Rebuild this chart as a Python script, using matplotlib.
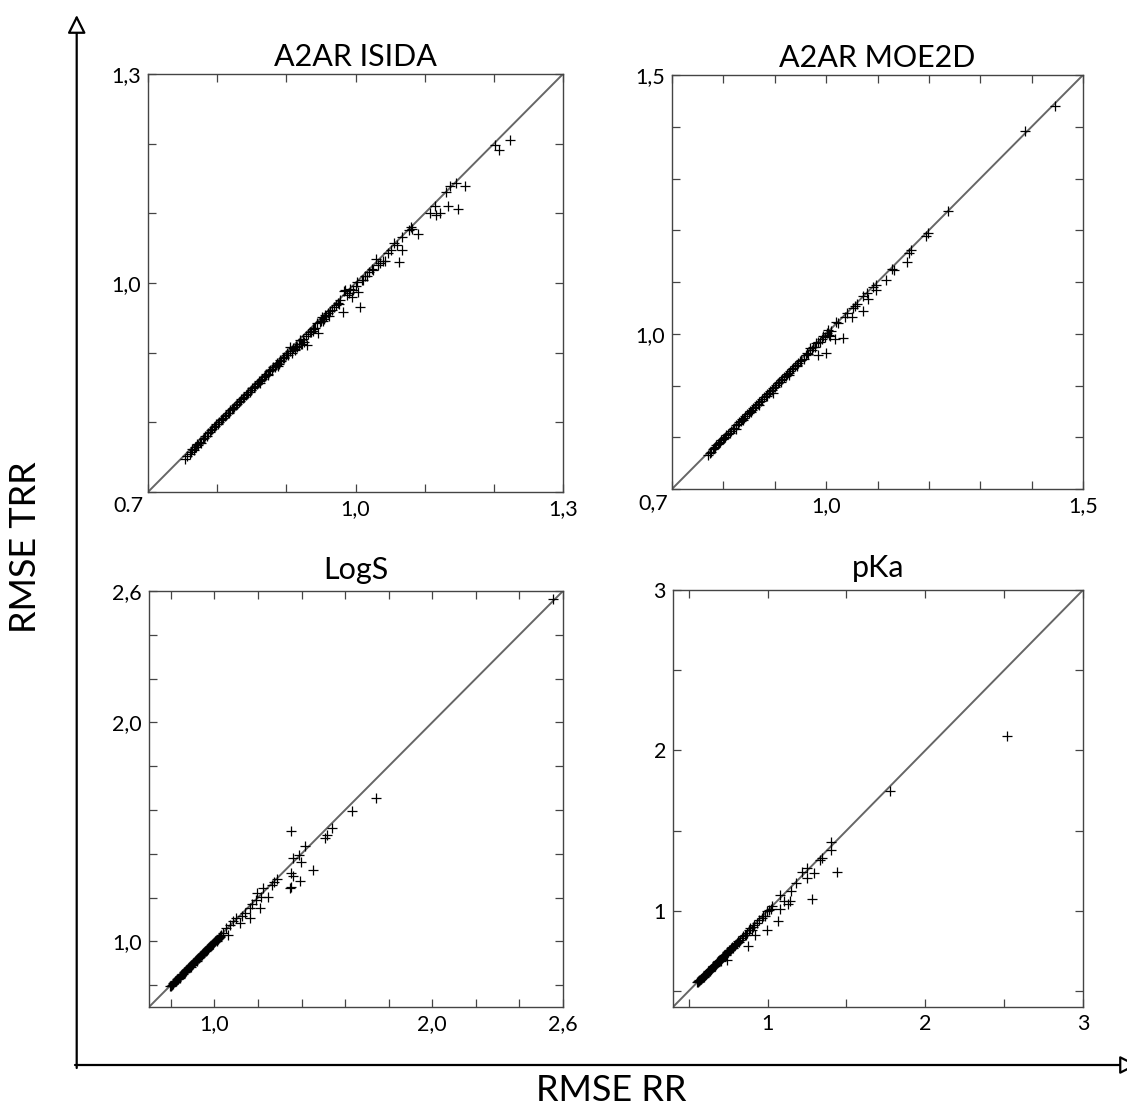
import matplotlib
matplotlib.use("Agg")
import matplotlib.pyplot as plt

plt.rcParams["font.family"] = ["Lato", "DejaVu Sans"]

# A2AR ISIDA
isida_rr = [0.754, 0.757, 0.760, 0.762, 0.764, 0.766, 0.768, 0.770, 0.771, 0.773,
            0.775, 0.777, 0.779, 0.781, 0.783, 0.785, 0.787, 0.789, 0.791, 0.793,
            0.795, 0.797, 0.799, 0.801, 0.803, 0.805, 0.807, 0.809, 0.811, 0.813,
            0.815, 0.817, 0.819, 0.821, 0.823, 0.825, 0.827, 0.829, 0.831, 0.833,
            0.835, 0.837, 0.839, 0.841, 0.843, 0.845, 0.847, 0.849, 0.851, 0.853,
            0.855, 0.857, 0.859, 0.861, 0.863, 0.865, 0.867, 0.869, 0.871, 0.873,
            0.875, 0.877, 0.879, 0.881, 0.883, 0.885, 0.887, 0.889, 0.891, 0.893,
            0.895, 0.897, 0.899, 0.901, 0.903, 0.905, 0.906, 0.908, 0.910, 0.912,
            0.914, 0.916, 0.918, 0.920, 0.922, 0.924, 0.926, 0.928, 0.930, 0.932,
            0.934, 0.936, 0.938, 0.940, 0.942, 0.944, 0.946, 0.948, 0.950, 0.952,
            0.954, 0.956, 0.958, 0.960, 0.963, 0.966, 0.969, 0.972, 0.975, 0.978,
            0.982, 0.983, 0.985, 0.988, 0.990, 0.992, 0.995, 0.997, 1.000, 1.002,
            1.004, 1.007, 1.009, 1.011, 1.014, 1.016, 1.020, 1.024, 1.026, 1.030,
            1.033, 1.035, 1.040, 1.043, 1.047, 1.052, 1.056, 1.060, 1.063, 1.067,
            1.067, 1.078, 1.080, 1.082, 1.091, 1.108, 1.115, 1.117, 1.122, 1.131,
            1.134, 1.136, 1.146, 1.148, 1.158, 1.201, 1.208, 1.224,
            0.862, 0.874, 0.888, 0.896, 0.913, 0.921, 0.939, 0.953, 0.962, 0.976]
isida_trr = [0.748, 0.752, 0.755, 0.758, 0.762, 0.760, 0.765, 0.764, 0.769, 0.768,
             0.772, 0.771, 0.776, 0.777, 0.780, 0.781, 0.785, 0.786, 0.789, 0.790,
             0.793, 0.795, 0.797, 0.798, 0.801, 0.803, 0.805, 0.806, 0.809, 0.811,
             0.813, 0.814, 0.817, 0.819, 0.821, 0.822, 0.825, 0.827, 0.829, 0.830,
             0.833, 0.835, 0.836, 0.839, 0.841, 0.843, 0.844, 0.847, 0.849, 0.851,
             0.852, 0.855, 0.856, 0.859, 0.861, 0.862, 0.865, 0.866, 0.869, 0.870,
             0.873, 0.875, 0.876, 0.879, 0.880, 0.882, 0.885, 0.884, 0.889, 0.888,
             0.892, 0.894, 0.896, 0.899, 0.897, 0.903, 0.908, 0.900, 0.906, 0.904,
             0.910, 0.908, 0.913, 0.918, 0.912, 0.920, 0.916, 0.924, 0.911, 0.927,
             0.930, 0.929, 0.934, 0.936, 0.935, 0.942, 0.928, 0.944, 0.946, 0.951,
             0.949, 0.954, 0.952, 0.957, 0.960, 0.961, 0.966, 0.968, 0.972, 0.975,
             0.959, 0.988, 0.990, 0.983, 0.985, 0.992, 0.980, 0.990, 0.995, 1.002,
             0.987, 0.966, 1.005, 1.004, 1.010, 1.010, 1.016, 1.020, 1.019, 1.035,
             1.026, 1.028, 1.032, 1.032, 1.043, 1.047, 1.057, 1.055, 1.030, 1.048,
             1.066, 1.076, 1.081, 1.078, 1.071, 1.100, 1.110, 1.098, 1.100, 1.130,
             1.110, 1.139, 1.144, 1.106, 1.139, 1.198, 1.191, 1.205,
             0.856, 0.868, 0.881, 0.892, 0.905, 0.913, 0.931, 0.945, 0.953, 0.970]

# A2AR MOE2D
moe_rr = [0.770, 0.773, 0.776, 0.779, 0.781, 0.784, 0.786, 0.789, 0.791, 0.794,
          0.796, 0.799, 0.801, 0.804, 0.806, 0.809, 0.812, 0.815, 0.818, 0.821,
          0.824, 0.825, 0.828, 0.831, 0.834, 0.837, 0.840, 0.843, 0.846, 0.849,
          0.852, 0.855, 0.858, 0.861, 0.864, 0.867, 0.870, 0.873, 0.876, 0.879,
          0.882, 0.885, 0.888, 0.891, 0.894, 0.897, 0.897, 0.900, 0.903, 0.906,
          0.909, 0.912, 0.915, 0.918, 0.921, 0.924, 0.927, 0.930, 0.933, 0.936,
          0.940, 0.943, 0.946, 0.949, 0.952, 0.956, 0.960, 0.962, 0.965, 0.968,
          0.972, 0.975, 0.978, 0.981, 0.985, 0.985, 0.988, 0.991, 0.994, 0.997,
          0.999, 1.001, 1.004, 1.005, 1.007, 1.010, 1.017, 1.020, 1.024, 1.033,
          1.037, 1.040, 1.050, 1.053, 1.056, 1.060, 1.072, 1.072, 1.079, 1.082,
          1.092, 1.097, 1.098, 1.117, 1.128, 1.132, 1.158, 1.162, 1.165, 1.195,
          1.199, 1.237, 1.387, 1.445,
          0.838, 0.853, 0.869, 0.884, 0.912, 0.928, 0.944]
moe_trr = [0.766, 0.770, 0.772, 0.777, 0.779, 0.781, 0.785, 0.787, 0.789, 0.791,
           0.795, 0.797, 0.799, 0.801, 0.805, 0.807, 0.809, 0.813, 0.816, 0.818,
           0.815, 0.824, 0.826, 0.829, 0.832, 0.835, 0.838, 0.841, 0.844, 0.847,
           0.850, 0.853, 0.856, 0.859, 0.862, 0.865, 0.868, 0.871, 0.874, 0.877,
           0.880, 0.883, 0.886, 0.889, 0.892, 0.885, 0.895, 0.898, 0.901, 0.904,
           0.907, 0.910, 0.913, 0.916, 0.919, 0.922, 0.925, 0.928, 0.931, 0.934,
           0.938, 0.940, 0.944, 0.947, 0.950, 0.952, 0.958, 0.963, 0.960, 0.972,
           0.968, 0.975, 0.975, 0.982, 0.959, 0.984, 0.985, 0.989, 0.995, 0.993,
           0.963, 1.001, 1.008, 0.998, 0.996, 1.005, 0.990, 1.022, 1.020, 0.992,
           1.033, 1.040, 1.033, 1.050, 1.053, 1.057, 1.072, 1.043, 1.078, 1.067,
           1.090, 1.094, 1.085, 1.103, 1.125, 1.124, 1.139, 1.157, 1.162, 1.188,
           1.194, 1.237, 1.392, 1.440,
           0.833, 0.849, 0.863, 0.879, 0.906, 0.921, 0.937]

# LogS
logs_rr = [0.795, 0.800, 0.804, 0.808, 0.812, 0.816, 0.820, 0.824, 0.828, 0.832,
           0.836, 0.840, 0.844, 0.848, 0.852, 0.856, 0.860, 0.864, 0.868, 0.872,
           0.876, 0.880, 0.884, 0.888, 0.892, 0.896, 0.900, 0.904, 0.908, 0.912,
           0.916, 0.920, 0.924, 0.928, 0.932, 0.936, 0.940, 0.944, 0.948, 0.952,
           0.956, 0.960, 0.964, 0.968, 0.972, 0.976, 0.980, 0.984, 0.988, 0.992,
           0.996, 1.000, 1.005, 1.010, 1.015, 1.020, 1.024, 1.028, 1.032, 1.040,
           1.055, 1.063, 1.070, 1.085, 1.101, 1.116, 1.128, 1.139, 1.165, 1.165,
           1.174, 1.190, 1.197, 1.208, 1.216, 1.223, 1.246, 1.266, 1.272, 1.287,
           1.349, 1.350, 1.352, 1.352, 1.361, 1.361, 1.388, 1.391, 1.399, 1.414,
           1.453, 1.506, 1.517, 1.541, 1.632, 1.743, 2.554,
           0.842, 0.866, 0.891, 0.918, 0.945, 0.972, 1.012]
logs_trr = [0.794, 0.796, 0.802, 0.805, 0.810, 0.813, 0.818, 0.821, 0.826, 0.829,
            0.834, 0.837, 0.842, 0.845, 0.850, 0.853, 0.858, 0.861, 0.866, 0.869,
            0.874, 0.877, 0.882, 0.885, 0.890, 0.893, 0.898, 0.901, 0.906, 0.909,
            0.914, 0.917, 0.922, 0.925, 0.930, 0.933, 0.938, 0.941, 0.946, 0.949,
            0.954, 0.957, 0.962, 0.965, 0.970, 0.973, 0.978, 0.981, 0.986, 0.989,
            0.994, 0.997, 1.002, 1.006, 1.012, 1.016, 1.022, 1.020, 1.030, 1.037,
            1.060, 1.030, 1.075, 1.091, 1.106, 1.083, 1.116, 1.129, 1.151, 1.106,
            1.171, 1.189, 1.220, 1.151, 1.202, 1.243, 1.202, 1.258, 1.273, 1.285,
            1.243, 1.311, 1.250, 1.504, 1.379, 1.299, 1.395, 1.276, 1.360, 1.437,
            1.326, 1.471, 1.486, 1.516, 1.597, 1.653, 2.565,
            0.833, 0.858, 0.882, 0.910, 0.936, 0.963, 1.001]

# pKa
pka_rr = [0.552, 0.556, 0.560, 0.564, 0.568, 0.572, 0.576, 0.580, 0.584, 0.588,
          0.592, 0.596, 0.600, 0.604, 0.608, 0.612, 0.616, 0.620, 0.624, 0.628,
          0.632, 0.636, 0.640, 0.644, 0.648, 0.652, 0.656, 0.660, 0.664, 0.668,
          0.672, 0.676, 0.680, 0.684, 0.688, 0.692, 0.696, 0.700, 0.705, 0.710,
          0.715, 0.720, 0.725, 0.730, 0.735, 0.742, 0.740, 0.745, 0.750, 0.755,
          0.760, 0.763, 0.768, 0.775, 0.784, 0.790, 0.798, 0.805, 0.812, 0.826,
          0.835, 0.847, 0.855, 0.869, 0.875, 0.880, 0.890, 0.900, 0.905, 0.911,
          0.921, 0.932, 0.945, 0.964, 0.970, 0.985, 0.995, 0.995, 1.010, 1.021,
          1.027, 1.069, 1.080, 1.080, 1.101, 1.132, 1.143, 1.149, 1.181, 1.217,
          1.248, 1.248, 1.280, 1.291, 1.333, 1.343, 1.400, 1.400, 1.438, 1.776,
          2.515,
          0.598, 0.634, 0.667, 0.702, 0.738, 0.779, 0.819, 0.862]
pka_trr = [0.556, 0.553, 0.560, 0.561, 0.566, 0.568, 0.574, 0.576, 0.582, 0.584,
           0.590, 0.592, 0.598, 0.600, 0.606, 0.608, 0.614, 0.616, 0.622, 0.624,
           0.630, 0.632, 0.638, 0.640, 0.646, 0.648, 0.654, 0.656, 0.662, 0.664,
           0.670, 0.672, 0.678, 0.680, 0.686, 0.688, 0.694, 0.696, 0.702, 0.706,
           0.712, 0.716, 0.722, 0.726, 0.733, 0.691, 0.737, 0.742, 0.746, 0.753,
           0.756, 0.757, 0.766, 0.771, 0.778, 0.788, 0.795, 0.799, 0.810, 0.820,
           0.833, 0.840, 0.852, 0.861, 0.782, 0.878, 0.892, 0.878, 0.900, 0.913,
           0.851, 0.923, 0.940, 0.955, 0.968, 0.965, 0.882, 1.000, 1.005, 1.011,
           1.027, 0.934, 1.011, 1.100, 1.063, 1.042, 1.058, 1.121, 1.173, 1.239,
           1.266, 1.204, 1.075, 1.235, 1.318, 1.328, 1.376, 1.426, 1.241, 1.744,
           2.091,
           0.586, 0.622, 0.655, 0.688, 0.722, 0.765, 0.806, 0.848]

panels = [
    ("A2AR ISIDA", isida_rr, isida_trr, (0.7, 1.3), [0.7, 0.8, 0.9, 1.0, 1.1, 1.2, 1.3],
     {1.0: "1,0", 1.3: "1,3"}, {1.0: "1,0", 1.3: "1,3"}, "0.7"),
    ("A2AR MOE2D", moe_rr, moe_trr, (0.7, 1.5), [0.7, 0.8, 0.9, 1.0, 1.1, 1.2, 1.3, 1.4, 1.5],
     {1.0: "1,0", 1.5: "1,5"}, {1.0: "1,0", 1.5: "1,5"}, "0,7"),
    ("LogS", logs_rr, logs_trr, (0.7, 2.6), [0.8, 1.0, 1.2, 1.4, 1.6, 1.8, 2.0, 2.2, 2.4, 2.6],
     {1.0: "1,0", 2.0: "2,0", 2.6: "2,6"}, {1.0: "1,0", 2.0: "2,0", 2.6: "2,6"}, None),
    ("pKa", pka_rr, pka_trr, (0.4, 3.0), [0.5, 1.0, 1.5, 2.0, 2.5, 3.0],
     {1.0: "1", 2.0: "2", 3.0: "3"}, {1.0: "1", 2.0: "2", 3.0: "3"}, None),
]

positions = [
    [148 / 1127, 1 - 492 / 1108, 415 / 1127, 418 / 1108],
    [672 / 1127, 1 - 489 / 1108, 411 / 1127, 414 / 1108],
    [149 / 1127, 1 - 1007 / 1108, 414 / 1127, 416 / 1108],
    [673 / 1127, 1 - 1007 / 1108, 410 / 1127, 417 / 1108],
]
title_pads = [6, 6, 9, 9]

fig = plt.figure(figsize=(11.27, 11.08), dpi=100)

for (title, xs, ys, lim, ticks, xlab, ylab, corner), pos, tp in zip(panels, positions, title_pads):
    ax = fig.add_axes(pos)
    ax.plot(lim, lim, color="#666666", lw=1.4, zorder=1)
    ax.plot(xs, ys, "+", color="black", ms=7.5, mew=0.9, zorder=2)
    ax.set_xlim(lim)
    ax.set_ylim(lim)
    ax.set_xticks(ticks)
    ax.set_yticks(ticks)
    ax.set_xticklabels([xlab.get(round(t, 2), "") for t in ticks])
    ax.set_yticklabels([ylab.get(round(t, 2), "") for t in ticks])
    ax.tick_params(direction="in", length=6, width=0.9, color="#444444",
                   top=True, right=True, labelsize=15.5, pad=5)
    for s in ax.spines.values():
        s.set_color("#444444")
        s.set_linewidth(1.0)
    if corner:
        ax.annotate(corner, xy=(0, 0), xycoords="axes fraction", xytext=(-3, -3),
                    textcoords="offset points", ha="right", va="top", fontsize=15.5)
    ax.set_title(title, fontsize=22, pad=tp)

fig.text(25 / 1127, 1 - 547 / 1108, "RMSE TRR", rotation=90, ha="center", va="center", fontsize=26)
fig.text(611 / 1127, 1 / 1108, "RMSE RR", ha="center", va="bottom", fontsize=26)

arrow = dict(arrowstyle="-|>,head_length=1.1,head_width=0.55", mutation_scale=10,
             fc="white", ec="black", lw=1.6, shrinkA=0, shrinkB=0)
ax.annotate("", xy=(76.7, 1093), xytext=(76.7, 40), xycoords="figure pixels",
            textcoords="figure pixels", arrowprops=arrow, annotation_clip=False)
ax.annotate("", xy=(1138, 43), xytext=(75, 43), xycoords="figure pixels",
            textcoords="figure pixels", arrowprops=arrow, annotation_clip=False)

fig.savefig("out.png", dpi=100)
